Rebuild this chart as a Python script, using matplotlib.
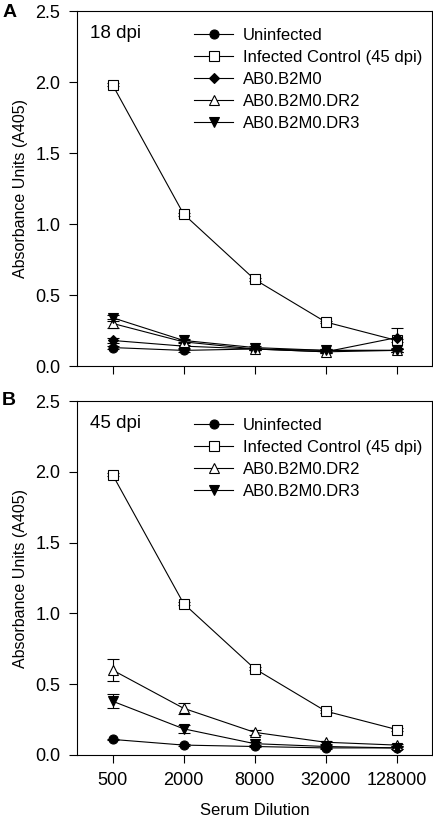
import matplotlib
matplotlib.use("Agg")
import matplotlib.pyplot as plt
from matplotlib.lines import Line2D

plt.rcParams['font.family'] = ['Liberation Sans', 'DejaVu Sans']

dilutions = [500, 2000, 8000, 32000, 128000]
tick_labels = ["500", "2000", "8000", "32000", "128000"]

# Panel A (18 dpi)
a_uninf = [0.13, 0.11, 0.12, 0.11, 0.11]
a_uninf_err = [0.01, 0.01, 0.01, 0.01, 0.01]
a_inf = [1.98, 1.07, 0.61, 0.31, 0.18]
a_inf_err = [0.01, 0.01, 0.01, 0.01, 0.01]
a_b2m0 = [0.18, 0.14, 0.12, 0.10, 0.20]
a_b2m0_err = [0.02, 0.01, 0.01, 0.01, 0.07]
a_dr2 = [0.30, 0.17, 0.12, 0.10, 0.11]
a_dr2_err = [0.03, 0.01, 0.01, 0.01, 0.01]
a_dr3 = [0.34, 0.18, 0.13, 0.11, 0.11]
a_dr3_err = [0.02, 0.01, 0.01, 0.01, 0.01]

# Panel B (45 dpi)
b_uninf = [0.11, 0.07, 0.06, 0.05, 0.05]
b_uninf_err = [0.005, 0.005, 0.005, 0.005, 0.005]
b_inf = [1.98, 1.07, 0.61, 0.31, 0.18]
b_inf_err = [0.01, 0.01, 0.01, 0.01, 0.01]
b_dr2 = [0.60, 0.33, 0.16, 0.09, 0.07]
b_dr2_err = [0.08, 0.04, 0.02, 0.01, 0.01]
b_dr3 = [0.38, 0.185, 0.08, 0.06, 0.05]
b_dr3_err = [0.05, 0.03, 0.01, 0.01, 0.01]

fig = plt.figure(figsize=(4.33, 8.17), dpi=100)
axA = fig.add_axes([0.178, 0.552, 0.820, 0.4345])
axB = fig.add_axes([0.178, 0.0759, 0.820, 0.4331])

styles = {
    'Uninfected': dict(marker='o', mfc='black', mec='black'),
    'Infected Control (45 dpi)': dict(marker='s', mfc='white', mec='black'),
    'AB0.B2M0': dict(marker='D', mfc='black', mec='black', ms=5.5),
    'AB0.B2M0.DR2': dict(marker='^', mfc='white', mec='black'),
    'AB0.B2M0.DR3': dict(marker='v', mfc='black', mec='black'),
}

def mstyle(name):
    st = dict(ms=6.5, mew=0.8)
    st.update(styles[name])
    return st

def plot_series(ax, y, err, name):
    ax.errorbar(dilutions, y, yerr=err, color='black', lw=0.8, capsize=4,
                elinewidth=0.8, capthick=0.8, **mstyle(name))

def style_axes(ax, show_xlabels, names):
    ax.set_xscale('log', base=2)
    ax.set_xlim(250, 256000)
    ax.set_ylim(0, 2.5)
    ax.set_yticks([0, 0.5, 1.0, 1.5, 2.0, 2.5])
    ax.set_yticklabels(["0.0", "0.5", "1.0", "1.5", "2.0", "2.5"])
    ax.set_xticks(dilutions)
    ax.minorticks_off()
    if show_xlabels:
        ax.set_xticklabels(tick_labels)
    else:
        ax.set_xticklabels([])
    ax.tick_params(direction='out', length=6, width=0.8, labelsize=13, pad=6)
    for s in ax.spines.values():
        s.set_linewidth(0.8)
    ax.set_ylabel("Absorbance Units (A405)", fontsize=11.5, labelpad=5)
    handles = [Line2D([], [], color='black', lw=0.8, **mstyle(n)) for n in names]
    ax.legend(handles, names, loc='upper right', bbox_to_anchor=(1.0, 0.98), frameon=False,
              fontsize=12, handlelength=2.3, labelspacing=0.42,
              handletextpad=0.6, borderaxespad=0.2)

for y, e, n in [(a_uninf, a_uninf_err, 'Uninfected'),
                (a_inf, a_inf_err, 'Infected Control (45 dpi)'),
                (a_b2m0, a_b2m0_err, 'AB0.B2M0'),
                (a_dr2, a_dr2_err, 'AB0.B2M0.DR2'),
                (a_dr3, a_dr3_err, 'AB0.B2M0.DR3')]:
    plot_series(axA, y, e, n)

for y, e, n in [(b_uninf, b_uninf_err, 'Uninfected'),
                (b_inf, b_inf_err, 'Infected Control (45 dpi)'),
                (b_dr2, b_dr2_err, 'AB0.B2M0.DR2'),
                (b_dr3, b_dr3_err, 'AB0.B2M0.DR3')]:
    plot_series(axB, y, e, n)

style_axes(axA, False, ['Uninfected', 'Infected Control (45 dpi)', 'AB0.B2M0',
                        'AB0.B2M0.DR2', 'AB0.B2M0.DR3'])
style_axes(axB, True, ['Uninfected', 'Infected Control (45 dpi)',
                       'AB0.B2M0.DR2', 'AB0.B2M0.DR3'])
axB.set_xlabel("Serum Dilution", fontsize=12, labelpad=10)

axA.text(0.035, 0.96, "18 dpi", transform=axA.transAxes, fontsize=13.5, va='top', ha='left')
axB.text(0.035, 0.96, "45 dpi", transform=axB.transAxes, fontsize=13.5, va='top', ha='left')

fig.text(0.005, 0.985, "A", fontsize=14, fontweight='bold', va='center', ha='left')
fig.text(0.005, 0.510, "B", fontsize=14, fontweight='bold', va='center', ha='left')

fig.savefig("out.png", dpi=100)
